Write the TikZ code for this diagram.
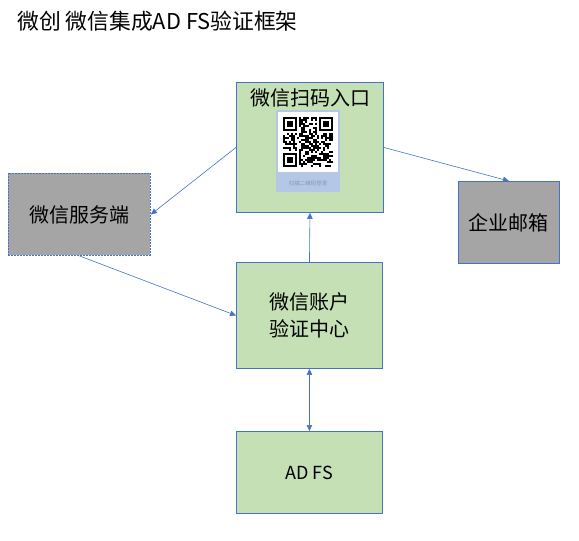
\documentclass[tikz,border=0pt]{standalone}
\usepackage{fontspec}
\setmainfont{Noto Sans CJK SC}
\usetikzlibrary{arrows.meta}
\definecolor{boxgreen}{HTML}{C5E0B4}
\definecolor{boxgray}{HTML}{A5A5A5}
\definecolor{edgeblue}{HTML}{4472C4}
\definecolor{panelblue}{HTML}{B4C7E7}
\definecolor{captiongray}{HTML}{8497B0}
\tikzset{
  greenbox/.style={draw=edgeblue, fill=boxgreen, line width=0.9pt, anchor=north west, inner sep=0pt, align=center, font=\fontsize{20}{27}\selectfont},
  graybox/.style={draw=edgeblue, fill=boxgray, line width=0.9pt, anchor=north west, inner sep=0pt, align=center, font=\fontsize{20}{27}\selectfont},
  conn/.style={draw=edgeblue, line width=0.6pt, -{Triangle[length=6pt,width=5.5pt]}},
  dconn/.style={draw=edgeblue, line width=0.6pt, {Triangle[length=6pt,width=5.5pt]}-{Triangle[length=6pt,width=5.5pt]}}
}
\begin{document}
\begin{tikzpicture}[x=1pt,y=-1pt]
\useasboundingbox (0,0) rectangle (579,541);
% title
\node[anchor=west, inner sep=0pt, font=\fontsize{21.8}{26}\selectfont] (title) at (17,21) {微创 微信集成AD FS验证框架};
% boxes
\node[greenbox, minimum width=147pt, minimum height=130pt] (scan) at (236,82) {};
\node[font=\fontsize{20}{24}\selectfont, inner sep=0pt] (scantitle) at (310,98) {微信扫码入口};
\node[graybox, dash pattern=on 2pt off 1pt, minimum width=142pt, minimum height=82pt] (service) at (8,173) {微信服务端};
\node[graybox, minimum width=101pt, minimum height=82pt] (mail) at (458,181) {企业邮箱};
\node[greenbox, minimum width=146pt, minimum height=106pt] (center) at (236,262) {微信账户\\验证中心};
\node[greenbox, minimum width=146pt, minimum height=82pt, font=\fontsize{18}{22}\selectfont] (adfs) at (236,431) {AD FS};
% QR panel
\fill[panelblue] (276,110) rectangle (340,192);
\fill[white] (278,112) rectangle (338,172);
\node[font=\fontsize{5.5}{6}\selectfont, text=captiongray, inner sep=0pt] (caption) at (308,183) {扫描二维码登录};
\begin{scope}[shift={(283,117)}]
\pgfmathsetseed{4711}
\foreach \i in {0,...,24}{
  \foreach \j in {0,...,24}{
    \pgfmathparse{int(rnd*2)}
    \ifnum\pgfmathresult=1 \fill[black] (2*\i,2*\j) rectangle ++(2,2);\fi
  }
}
\foreach \cx/\cy in {0/0,36/0,0/36}{
  \fill[white] (\cx-2,\cy-2) rectangle ++(18,18);
  \fill[black] (\cx,\cy) rectangle ++(14,14);
  \fill[white] (\cx+2,\cy+2) rectangle ++(10,10);
  \fill[black] (\cx+4,\cy+4) rectangle ++(6,6);
}
\end{scope}
% connectors
\draw[conn] (scan.west) -- (service.east);
\draw[conn] (scan.east) -- (mail.north);
\draw[conn] (service.south) -- (center.west);
\draw[conn] (center.north) -- (scan.south);
\draw[dconn] (center.south) -- (adfs.north);
\end{tikzpicture}
\end{document}
